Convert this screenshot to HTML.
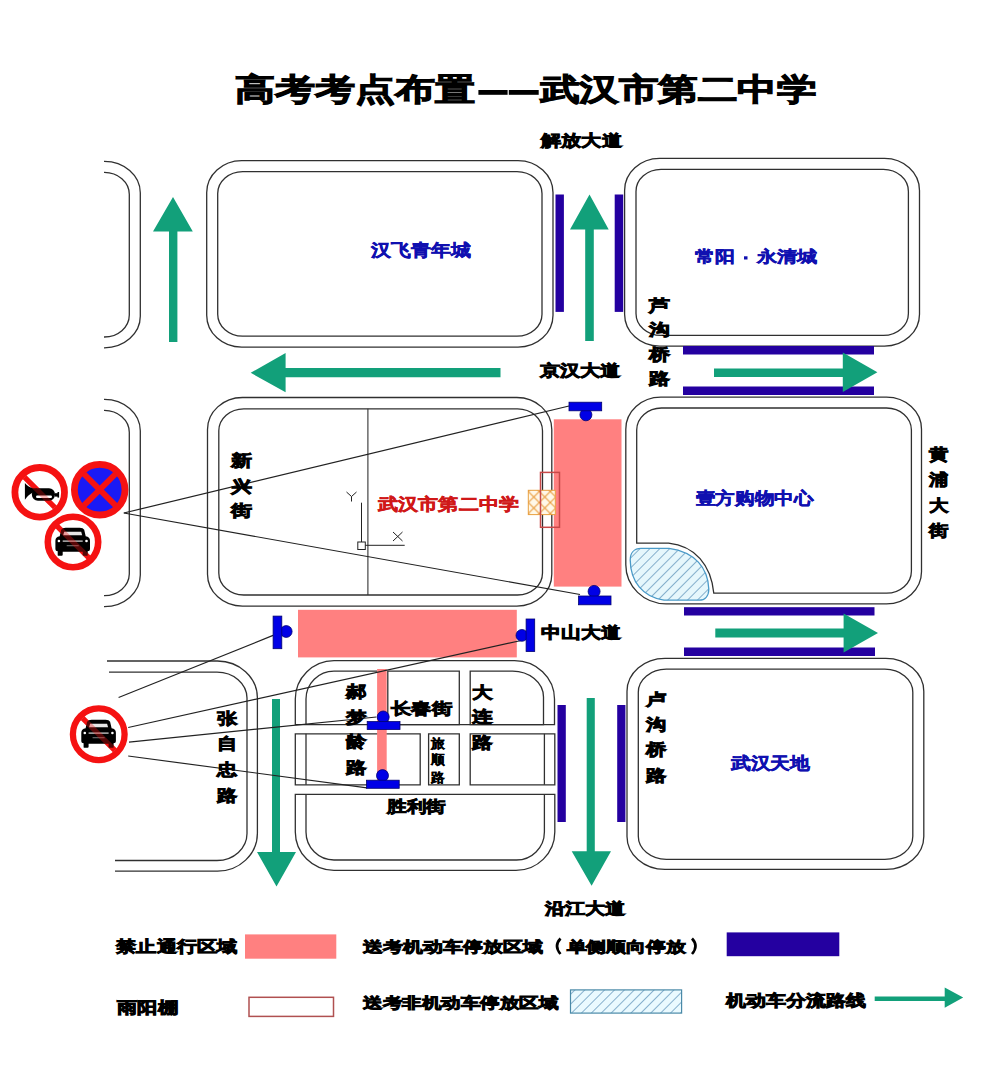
<!DOCTYPE html>
<html><head><meta charset="utf-8"><style>
html,body{margin:0;padding:0;background:#fff;}
svg{display:block;font-family:"Liberation Sans",sans-serif;}
</style></head><body>
<svg width="985" height="1067" viewBox="0 0 985 1067">
<rect x="0" y="0" width="985" height="1067" fill="#fff"/>
<text x="234.5" y="99.73" font-size="30.50" font-weight="700" fill="#000" stroke="#000" stroke-width="1.0" textLength="240.50" lengthAdjust="spacingAndGlyphs">高考考点布置</text>
<rect x="478.4" y="90" width="29.20" height="4.80" fill="#000" />
<rect x="508.8" y="90" width="29.90" height="4.80" fill="#000" />
<text x="539.5" y="99.73" font-size="30.50" font-weight="700" fill="#000" stroke="#000" stroke-width="1.0" textLength="277.10" lengthAdjust="spacingAndGlyphs">武汉市第二中学</text>
<path d="M104,161.3 A36,31.5 0 0 1 140.3,192.8 V316 A36,31.5 0 0 1 104,347.8" fill="none" stroke="#303030" stroke-width="1.3"/>
<path d="M104,172.3 A25,22 0 0 1 129.3,194.3 V315 A25,22 0 0 1 104,337" fill="none" stroke="#303030" stroke-width="1.3"/>
<path d="M104,399.3 A36,31.5 0 0 1 140.3,430.8 V575 A36,31.5 0 0 1 104,606.6" fill="none" stroke="#303030" stroke-width="1.3"/>
<path d="M104,410.3 A25,22 0 0 1 129.3,432.3 V574 A25,22 0 0 1 104,595.6" fill="none" stroke="#303030" stroke-width="1.3"/>
<path d="M107,661 H217 A40,37 0 0 1 257.4,698 V833 A40,38 0 0 1 217,871.2 H115" fill="none" stroke="#303030" stroke-width="1.3"/>
<path d="M109,672.2 H217 A30,26 0 0 1 247,698 V833 A30,27 0 0 1 217,860.5 H115" fill="none" stroke="#303030" stroke-width="1.3"/>
<path d="M241.7,160.6 H518 A35,32 0 0 1 553,192.6 V315.2 A35,32 0 0 1 518,347.2 H241.7 A35,32 0 0 1 206.7,315.2 V192.6 A35,32 0 0 1 241.7,160.6 Z" fill="none" stroke="#303030" stroke-width="1.3"/>
<path d="M242.7,171.6 H517 A25,22 0 0 1 542,193.6 V314.2 A25,22 0 0 1 517,336.2 H242.7 A25,22 0 0 1 217.7,314.2 V193.6 A25,22 0 0 1 242.7,171.6 Z" fill="none" stroke="#303030" stroke-width="1.3"/>
<path d="M659.6,158.4 H884.5 A35,32 0 0 1 919.5,190.4 V314.2 A35,32 0 0 1 884.5,346.2 H659.6 A35,32 0 0 1 624.6,314.2 V190.4 A35,32 0 0 1 659.6,158.4 Z" fill="none" stroke="#303030" stroke-width="1.3"/>
<path d="M661,169.4 H883.4 A25,22 0 0 1 908.4,191.4 V313.4 A25,22 0 0 1 883.4,335.4 H661 A25,22 0 0 1 636,313.4 V191.4 A25,22 0 0 1 661,169.4 Z" fill="none" stroke="#303030" stroke-width="1.3"/>
<path d="M242.5,397.5 H516.8 A35,32 0 0 1 551.8,429.5 V574.2 A35,32 0 0 1 516.8,606.2 H242.5 A35,32 0 0 1 207.5,574.2 V429.5 A35,32 0 0 1 242.5,397.5 Z" fill="none" stroke="#303030" stroke-width="1.3"/>
<path d="M243.8,408.8 H517.5 A25,22 0 0 1 542.5,430.8 V573.0 A25,22 0 0 1 517.5,595.0 H243.8 A25,22 0 0 1 218.8,573.0 V430.8 A25,22 0 0 1 243.8,408.8 Z" fill="none" stroke="#303030" stroke-width="1.3"/>
<line x1="367.9" y1="408.8" x2="367.9" y2="595.0" stroke="#333" stroke-width="1.1"/>
<path d="M660.8,397.2 H886.5 A35,32 0 0 1 921.5,429.2 V571.8 A35,32 0 0 1 886.5,603.8 H666 A40.2,39 0 0 1 625.8,564.8 V429.2 A35,32 0 0 1 660.8,397.2 Z" fill="none" stroke="#303030" stroke-width="1.3"/>
<path d="M661.5,408 H886.5 A25,22 0 0 1 911.4,430 V571.2 A25,22 0 0 1 886.5,593.2 H713.8 C711,565 695,546 668.6,543.2 H636.7 V430 A25,22 0 0 1 661.5,408 Z" fill="none" stroke="#303030" stroke-width="1.3"/>
<path d="M665,658.3 H885.8 A38,33 0 0 1 923.8,691.3 V836.4 A38,33 0 0 1 885.8,869.4 H665 A38,33 0 0 1 627,836.4 V691.3 A38,33 0 0 1 665,658.3 Z" fill="none" stroke="#303030" stroke-width="1.3"/>
<path d="M666.3,669.2 H884.8 A28,23 0 0 1 912.8,692.2 V836.3 A28,23 0 0 1 884.8,859.3 H666.3 A28,23 0 0 1 638.3,836.3 V692.2 A28,23 0 0 1 666.3,669.2 Z" fill="none" stroke="#303030" stroke-width="1.3"/>
<path d="M295.3,794.4 V832 A39,38.5 0 0 0 334,870.4 H516 A39,38.5 0 0 0 554.8,832 V794.4 H295.3 Z" fill="none" stroke="#303030" stroke-width="1.3"/>
<path d="M554.8,784.8 V733.8 H470.2 V784.8 Z" fill="none" stroke="#303030" stroke-width="1.3"/>
<path d="M295.3,784.8 V733.8 H420.2 V784.8 Z" fill="none" stroke="#303030" stroke-width="1.3"/>
<path d="M306,794.4 V832 A28,28 0 0 0 334,860 H516 A28,28 0 0 0 544.4,832 V794.4" fill="none" stroke="#303030" stroke-width="1.3"/>
<path d="M306,733.8 V784.8" fill="none" stroke="#303030" stroke-width="1.3"/>
<path d="M544.4,733.8 V784.8" fill="none" stroke="#303030" stroke-width="1.3"/>
<path d="M428.6,733.8 H459.3 V784.8 H428.6 Z" fill="none" stroke="#303030" stroke-width="1.3"/>
<path d="M295.3,724.6 V699 A39,38.5 0 0 1 334,660.6 H514 A40,38.5 0 0 1 554.5,699 V724.6 Z" fill="none" stroke="#303030" stroke-width="1.3"/>
<path d="M306,724.6 V699 A28,28 0 0 1 334,671.2 H377" fill="none" stroke="#303030" stroke-width="1.3"/>
<path d="M387.8,671.2 H459.3 V724.6 H387.8 Z" fill="none" stroke="#303030" stroke-width="1.3"/>
<path d="M470.2,671.2 H512 A31,26 0 0 1 543.5,697 V724.6 H470.2 Z" fill="none" stroke="#303030" stroke-width="1.3"/>
<rect x="555.5" y="194.5" width="8.40" height="117.40" fill="#2400a0" />
<rect x="614.7" y="194.5" width="8.50" height="117.40" fill="#2400a0" />
<rect x="683" y="346" width="191.00" height="8.50" fill="#2400a0" />
<rect x="683" y="386.5" width="191.00" height="8.50" fill="#2400a0" />
<rect x="684" y="607.2" width="190.50" height="8.30" fill="#2400a0" />
<rect x="684" y="647.5" width="191.00" height="8.50" fill="#2400a0" />
<rect x="557.5" y="705" width="8.30" height="117.00" fill="#2400a0" />
<rect x="617.2" y="705" width="8.20" height="117.00" fill="#2400a0" />
<rect x="726.7" y="932.4" width="112.60" height="23.80" fill="#2400a0" />
<path d="M173,197 L192.8,231.4 L177.4,231.4 L177.4,342 L169,342 L169,231.4 L153,231.4 Z" fill="#12a07a"/>
<path d="M250.7,372.8 L285.6,392.3 L285.6,377.3 L500.5,377.3 L500.5,368 L285.6,368 L285.6,352.9 Z" fill="#12a07a"/>
<path d="M589.5,194.6 L608.7,229.6 L593.8,229.6 L593.8,340.9 L585.2,340.9 L585.2,229.6 L570,229.6 Z" fill="#12a07a"/>
<path d="M877.4,372.2 L842.8,392 L842.8,377.1 L714,377.1 L714,368.6 L842.8,368.6 L842.8,352.4 Z" fill="#12a07a"/>
<path d="M878,633 L843.6,652.4 L843.6,637.5 L715.3,637.5 L715.3,628.5 L843.6,628.5 L843.6,613.6 Z" fill="#12a07a"/>
<path d="M276.5,886.5 L296,852 L280,852 L280,699 L272,699 L272,852 L257,852 Z" fill="#12a07a"/>
<path d="M591.6,885.7 L611,851.2 L594.8,851.2 L594.8,698 L586.7,698 L586.7,851.2 L571.7,851.2 Z" fill="#12a07a"/>
<path d="M963.2,997.5 L944.7,1007.7 L944.7,1001.1 L874.7,1001.1 L874.7,996.6 L944.7,996.6 L944.7,987.4 Z" fill="#12a07a"/>
<rect x="553.8" y="419.3" width="67.70" height="167.30" fill="#ff8080" />
<rect x="298" y="609.8" width="218.80" height="47.60" fill="#ff8080" />
<rect x="377.1" y="669" width="9.60" height="111.00" fill="#ff8080" />
<rect x="245" y="934.4" width="91.30" height="24.30" fill="#ff8080" />
<defs><pattern id="xh" width="11" height="11" patternUnits="userSpaceOnUse" patternTransform="translate(528.3,491.5)"><path d="M0,0 L11,11 M11,0 L0,11" stroke="#e89a3a" stroke-width="1.1"/></pattern><pattern id="dh" width="7" height="7" patternUnits="userSpaceOnUse" patternTransform="rotate(45)"><line x1="0" y1="0" x2="0" y2="7" stroke="#3a78a8" stroke-width="1.15"/></pattern></defs>
<rect x="528.3" y="490.3" width="27" height="24.3" fill="#fff8e8" stroke="#e8a040" stroke-width="1"/>
<rect x="528.3" y="490.3" width="27" height="24.3" fill="url(#xh)"/>
<rect x="540.5" y="472.4" width="19" height="54.9" fill="none" stroke="#c84848" stroke-width="1.5"/>
<rect x="249" y="997.3" width="84.5" height="19.1" fill="none" stroke="#b05050" stroke-width="1.5"/>
<path d="M641,548.4 H669 C695,552 708,568 708.8,589 C708.8,596 705,600.2 699,600.2 H664 C643,597 630.5,582 630.2,560 C630.2,553 634,548.4 641,548.4 Z" fill="#e6f7fc"/>
<path d="M641,548.4 H669 C695,552 708,568 708.8,589 C708.8,596 705,600.2 699,600.2 H664 C643,597 630.5,582 630.2,560 C630.2,553 634,548.4 641,548.4 Z" fill="url(#dh)"/>
<path d="M641,548.4 H669 C695,552 708,568 708.8,589 C708.8,596 705,600.2 699,600.2 H664 C643,597 630.5,582 630.2,560 C630.2,553 634,548.4 641,548.4 Z" fill="none" stroke="#4a9ac8" stroke-width="1.3"/>
<rect x="570.5" y="989.9" width="111.1" height="23.2" fill="#eafaff"/>
<rect x="570.5" y="989.9" width="111.1" height="23.2" fill="url(#dh)"/>
<rect x="570.5" y="989.9" width="111.1" height="23.2" fill="none" stroke="#4a8aa8" stroke-width="1.2"/>
<g stroke="#222" stroke-width="1" fill="none"><path d="M361.5,502.7 V542 M365.3,545.3 H404.7"/><rect x="357.8" y="542" width="7.5" height="7.5"/><path d="M346.5,492 L351.5,496.5 L356.5,492 M351.5,496.5 V501.5"/><path d="M393,532 L402.5,541 M402.5,532 L393,541"/></g>
<line x1="123.8" y1="513" x2="569" y2="406" stroke="#222" stroke-width="1.2"/>
<line x1="123.8" y1="513" x2="580" y2="594.5" stroke="#222" stroke-width="1.2"/>
<line x1="118.6" y1="697.5" x2="273.1" y2="635.4" stroke="#222" stroke-width="1.2"/>
<line x1="128.2" y1="727.5" x2="521.2" y2="640.5" stroke="#222" stroke-width="1.2"/>
<line x1="129" y1="742.1" x2="376.4" y2="717" stroke="#222" stroke-width="1.2"/>
<line x1="128.2" y1="756" x2="367" y2="787.8" stroke="#222" stroke-width="1.2"/>
<g fill="#0000e6" stroke="#000070" stroke-width="0.8"><circle cx="585.9" cy="414.8" r="6"/><rect x="569" y="402.2" width="32.70" height="8.60"/></g>
<g fill="#0000e6" stroke="#000070" stroke-width="0.8"><circle cx="594.1" cy="591.4" r="6"/><rect x="578.6" y="596" width="32.40" height="8.80"/></g>
<g fill="#0000e6" stroke="#000070" stroke-width="0.8"><circle cx="383.2" cy="717" r="6"/><rect x="367.2" y="721.6" width="32.80" height="7.90"/></g>
<g fill="#0000e6" stroke="#000070" stroke-width="0.8"><circle cx="382.5" cy="775.6" r="6"/><rect x="366.5" y="780.2" width="32.70" height="8.10"/></g>
<g fill="#0000e6" stroke="#000070" stroke-width="0.8"><circle cx="286.2" cy="631.5" r="5.9"/><rect x="273.1" y="616.1" width="8.7" height="32.6"/></g>
<g fill="#0000e6" stroke="#000070" stroke-width="0.8"><circle cx="521.9" cy="635.4" r="5.9"/><rect x="526.1" y="619" width="8.6" height="32.5"/></g>
<circle cx="39.7" cy="492.3" r="24.8" fill="#fff" stroke="#f51212" stroke-width="6.8"/>
<line x1="24.499500000000005" y1="477.09950000000003" x2="54.9005" y2="507.5005" stroke="#f51212" stroke-width="5.2" opacity="1.0"/>
<g fill="#000"><path d="M24.9,483 L24.9,499.8 Q28.5,494.5 33,492.6 L37,492.4 V488.2 L33,488.2 Q28.5,487.5 24.9,483 Z"/><rect x="31.9" y="488.2" width="23.1" height="12.5" rx="6"/><rect x="55" y="493.2" width="3.2" height="3.4"/><rect x="57.5" y="492" width="1.6" height="5.6"/></g>
<rect x="36" y="495.6" width="16" height="2.4" rx="1.2" fill="#fff"/>
<line x1="24.499500000000005" y1="477.09950000000003" x2="54.9005" y2="507.5005" stroke="#f51212" stroke-width="5.2" opacity="0.3"/>
<circle cx="99.7" cy="489.7" r="25.3" fill="#1a1af5" stroke="#f51212" stroke-width="6.8"/>
<path d="M84,474 L115.4,505.4 M115.4,474 L84,505.4" stroke="#f51212" stroke-width="5.8"/>
<circle cx="73" cy="542" r="25.2" fill="#fff" stroke="#f51212" stroke-width="6.6"/>
<line x1="57.0925" y1="526.0925" x2="88.9075" y2="557.9075" stroke="#f51212" stroke-width="5.2" opacity="1.0"/>
<g transform="translate(72.7,541.8)"><path fill="#000" d="M-13,-5.5 L-11.5,-12 Q-10.5,-14 -7,-14 H7 Q10.5,-14 11.5,-12 L13,-5.5 Q17.3,-5 17.3,-1 V7.5 Q17.3,9.5 15,9.5 V13.5 Q15,14 14,14 H11 Q10,14 10,13 V10 H-10 V13 Q-10,14 -11,14 H-14 Q-15,14 -15,13.5 V9.5 Q-17.3,9.5 -17.3,7.5 V-1 Q-17.3,-5 -13,-5.5 Z"/><path fill="#fff" d="M-9.5,-6.5 L-8.5,-10 H8.5 L9.5,-6.5 Z" opacity="0.9"/><rect x="-10" y="-1.3" width="20" height="1.2" fill="#ddd"/><circle cx="-13.8" cy="-0.8" r="1.3" fill="#fff"/><circle cx="13.8" cy="-0.8" r="1.3" fill="#fff"/><rect x="-6" y="3.5" width="12" height="0.9" fill="#888"/></g>
<line x1="57.0925" y1="526.0925" x2="88.9075" y2="557.9075" stroke="#f51212" stroke-width="5.2" opacity="0.35"/>
<circle cx="98.75" cy="734.2" r="25.85" fill="#fff" stroke="#f51212" stroke-width="6.3"/>
<line x1="82.63040000000001" y1="718.0804" x2="114.86959999999999" y2="750.3196" stroke="#f51212" stroke-width="5.2" opacity="1.0"/>
<g transform="translate(98.6,733.8)"><path fill="#000" d="M-13,-5.5 L-11.5,-12 Q-10.5,-14 -7,-14 H7 Q10.5,-14 11.5,-12 L13,-5.5 Q17.3,-5 17.3,-1 V7.5 Q17.3,9.5 15,9.5 V13.5 Q15,14 14,14 H11 Q10,14 10,13 V10 H-10 V13 Q-10,14 -11,14 H-14 Q-15,14 -15,13.5 V9.5 Q-17.3,9.5 -17.3,7.5 V-1 Q-17.3,-5 -13,-5.5 Z"/><path fill="#fff" d="M-9.5,-6.5 L-8.5,-10 H8.5 L9.5,-6.5 Z" opacity="0.9"/><rect x="-10" y="-1.3" width="20" height="1.2" fill="#ddd"/><circle cx="-13.8" cy="-0.8" r="1.3" fill="#fff"/><circle cx="13.8" cy="-0.8" r="1.3" fill="#fff"/><rect x="-6" y="3.5" width="12" height="0.9" fill="#888"/></g>
<line x1="82.63040000000001" y1="718.0804" x2="114.86959999999999" y2="750.3196" stroke="#f51212" stroke-width="5.2" opacity="0.35"/>
<text x="541.2" y="145.90" font-size="15.70" font-weight="700" fill="#000" stroke="#000" stroke-width="0.85" textLength="80.50" lengthAdjust="spacingAndGlyphs">解放大道</text>
<text x="539.5" y="376.46" font-size="16.00" font-weight="700" fill="#000" stroke="#000" stroke-width="0.85" textLength="80.70" lengthAdjust="spacingAndGlyphs">京汉大道</text>
<text x="541.3" y="637.89" font-size="15.80" font-weight="700" fill="#000" stroke="#000" stroke-width="0.85" textLength="79.00" lengthAdjust="spacingAndGlyphs">中山大道</text>
<text x="544.5" y="913.96" font-size="16.00" font-weight="700" fill="#000" stroke="#000" stroke-width="0.85" textLength="80.50" lengthAdjust="spacingAndGlyphs">沿江大道</text>
<text x="371" y="255.89" font-size="16.50" font-weight="700" fill="#1010b0" stroke="#1010b0" stroke-width="0.5" textLength="99.50" lengthAdjust="spacingAndGlyphs">汉飞青年城</text>
<text x="694.7" y="261.50" font-size="15.70" font-weight="700" fill="#1010b0" stroke="#1010b0" stroke-width="0.5" textLength="40.00" lengthAdjust="spacingAndGlyphs">常阳</text>
<rect x="744" y="256.3" width="3.50" height="3.20" fill="#1010b0" />
<text x="756.8" y="261.50" font-size="15.70" font-weight="700" fill="#1010b0" stroke="#1010b0" stroke-width="0.5" textLength="60.40" lengthAdjust="spacingAndGlyphs">永清城</text>
<text x="378.4" y="509.82" font-size="17.00" font-weight="700" fill="#d01818" stroke="#d01818" stroke-width="0.5" textLength="140.20" lengthAdjust="spacingAndGlyphs">武汉市第二中学</text>
<text x="695.9" y="504.39" font-size="16.50" font-weight="700" fill="#1010b0" stroke="#1010b0" stroke-width="0.5" textLength="117.40" lengthAdjust="spacingAndGlyphs">壹方购物中心</text>
<text x="730.9" y="768.89" font-size="16.50" font-weight="700" fill="#1010b0" stroke="#1010b0" stroke-width="0.5" textLength="79.10" lengthAdjust="spacingAndGlyphs">武汉天地</text>
<text x="391" y="713.96" font-size="16.00" font-weight="700" fill="#000" stroke="#000" stroke-width="0.85" textLength="61.00" lengthAdjust="spacingAndGlyphs">长春街</text>
<text x="387" y="811.96" font-size="16.00" font-weight="700" fill="#000" stroke="#000" stroke-width="0.85" textLength="58.50" lengthAdjust="spacingAndGlyphs">胜利街</text>
<text x="649.2" y="311.46" font-size="16.00" font-weight="700" fill="#000" stroke="#000" stroke-width="0.85" textLength="20.90" lengthAdjust="spacingAndGlyphs">芦</text>
<text x="649.2" y="334.96" font-size="16.00" font-weight="700" fill="#000" stroke="#000" stroke-width="0.85" textLength="20.90" lengthAdjust="spacingAndGlyphs">沟</text>
<text x="649.2" y="360.46" font-size="16.00" font-weight="700" fill="#000" stroke="#000" stroke-width="0.85" textLength="20.90" lengthAdjust="spacingAndGlyphs">桥</text>
<text x="649.2" y="383.96" font-size="16.00" font-weight="700" fill="#000" stroke="#000" stroke-width="0.85" textLength="20.90" lengthAdjust="spacingAndGlyphs">路</text>
<text x="646.4" y="704.96" font-size="16.00" font-weight="700" fill="#000" stroke="#000" stroke-width="0.85" textLength="20.30" lengthAdjust="spacingAndGlyphs">卢</text>
<text x="646.4" y="729.96" font-size="16.00" font-weight="700" fill="#000" stroke="#000" stroke-width="0.85" textLength="20.30" lengthAdjust="spacingAndGlyphs">沟</text>
<text x="646.4" y="755.46" font-size="16.00" font-weight="700" fill="#000" stroke="#000" stroke-width="0.85" textLength="20.30" lengthAdjust="spacingAndGlyphs">桥</text>
<text x="646.4" y="780.96" font-size="16.00" font-weight="700" fill="#000" stroke="#000" stroke-width="0.85" textLength="20.30" lengthAdjust="spacingAndGlyphs">路</text>
<text x="929.4" y="460.46" font-size="16.00" font-weight="700" fill="#000" stroke="#000" stroke-width="0.85" textLength="19.40" lengthAdjust="spacingAndGlyphs">黄</text>
<text x="929.4" y="485.46" font-size="16.00" font-weight="700" fill="#000" stroke="#000" stroke-width="0.85" textLength="19.40" lengthAdjust="spacingAndGlyphs">浦</text>
<text x="929.4" y="511.46" font-size="16.00" font-weight="700" fill="#000" stroke="#000" stroke-width="0.85" textLength="19.40" lengthAdjust="spacingAndGlyphs">大</text>
<text x="929.4" y="535.96" font-size="16.00" font-weight="700" fill="#000" stroke="#000" stroke-width="0.85" textLength="19.40" lengthAdjust="spacingAndGlyphs">街</text>
<text x="230.8" y="465.96" font-size="16.00" font-weight="700" fill="#000" stroke="#000" stroke-width="0.85" textLength="21.00" lengthAdjust="spacingAndGlyphs">新</text>
<text x="230.8" y="491.76" font-size="16.00" font-weight="700" fill="#000" stroke="#000" stroke-width="0.85" textLength="21.00" lengthAdjust="spacingAndGlyphs">兴</text>
<text x="230.8" y="516.16" font-size="16.00" font-weight="700" fill="#000" stroke="#000" stroke-width="0.85" textLength="21.00" lengthAdjust="spacingAndGlyphs">街</text>
<text x="217" y="724.16" font-size="16.00" font-weight="700" fill="#000" stroke="#000" stroke-width="0.85" textLength="20.20" lengthAdjust="spacingAndGlyphs">张</text>
<text x="217" y="748.96" font-size="16.00" font-weight="700" fill="#000" stroke="#000" stroke-width="0.85" textLength="20.20" lengthAdjust="spacingAndGlyphs">自</text>
<text x="217" y="774.96" font-size="16.00" font-weight="700" fill="#000" stroke="#000" stroke-width="0.85" textLength="20.20" lengthAdjust="spacingAndGlyphs">忠</text>
<text x="217" y="800.56" font-size="16.00" font-weight="700" fill="#000" stroke="#000" stroke-width="0.85" textLength="20.20" lengthAdjust="spacingAndGlyphs">路</text>
<text x="346" y="696.96" font-size="16.00" font-weight="700" fill="#000" stroke="#000" stroke-width="0.85" textLength="20.50" lengthAdjust="spacingAndGlyphs">郝</text>
<text x="346" y="722.96" font-size="16.00" font-weight="700" fill="#000" stroke="#000" stroke-width="0.85" textLength="20.50" lengthAdjust="spacingAndGlyphs">梦</text>
<text x="346" y="747.36" font-size="16.00" font-weight="700" fill="#000" stroke="#000" stroke-width="0.85" textLength="20.50" lengthAdjust="spacingAndGlyphs">龄</text>
<text x="346" y="773.26" font-size="16.00" font-weight="700" fill="#000" stroke="#000" stroke-width="0.85" textLength="20.50" lengthAdjust="spacingAndGlyphs">路</text>
<text x="471.8" y="697.96" font-size="16.00" font-weight="700" fill="#000" stroke="#000" stroke-width="0.85" textLength="20.50" lengthAdjust="spacingAndGlyphs">大</text>
<text x="471.8" y="721.96" font-size="16.00" font-weight="700" fill="#000" stroke="#000" stroke-width="0.85" textLength="20.50" lengthAdjust="spacingAndGlyphs">连</text>
<text x="471.8" y="747.96" font-size="16.00" font-weight="700" fill="#000" stroke="#000" stroke-width="0.85" textLength="20.50" lengthAdjust="spacingAndGlyphs">路</text>
<text x="430.7" y="748.38" font-size="13.00" font-weight="700" fill="#000" stroke="#000" stroke-width="0.4" textLength="13.70" lengthAdjust="spacingAndGlyphs">旅</text>
<text x="430.7" y="764.38" font-size="13.00" font-weight="700" fill="#000" stroke="#000" stroke-width="0.4" textLength="13.70" lengthAdjust="spacingAndGlyphs">顺</text>
<text x="430.7" y="781.88" font-size="13.00" font-weight="700" fill="#000" stroke="#000" stroke-width="0.4" textLength="13.70" lengthAdjust="spacingAndGlyphs">路</text>
<text x="116.2" y="952.46" font-size="16.00" font-weight="700" fill="#000" stroke="#000" stroke-width="0.85" textLength="121.10" lengthAdjust="spacingAndGlyphs">禁止通行区域</text>
<text x="116.9" y="1012.67" font-size="15.90" font-weight="700" fill="#000" stroke="#000" stroke-width="0.85" textLength="61.20" lengthAdjust="spacingAndGlyphs">雨阳棚</text>
<text x="363.3" y="951.86" font-size="15.30" font-weight="700" fill="#000" stroke="#000" stroke-width="0.85" textLength="179.20" lengthAdjust="spacingAndGlyphs">送考机动车停放区域</text>
<text x="566.6" y="951.86" font-size="15.30" font-weight="700" fill="#000" stroke="#000" stroke-width="0.85" textLength="119.30" lengthAdjust="spacingAndGlyphs">单侧顺向停放</text>
<path d="M560.5,938.5 Q553.5,946 560.5,954" fill="none" stroke="#000" stroke-width="2.6"/>
<path d="M692,938.5 Q699,946 692,954" fill="none" stroke="#000" stroke-width="2.6"/>
<text x="363.3" y="1007.87" font-size="15.20" font-weight="700" fill="#000" stroke="#000" stroke-width="0.85" textLength="195.20" lengthAdjust="spacingAndGlyphs">送考非机动车停放区域</text>
<text x="725.6" y="1005.69" font-size="15.80" font-weight="700" fill="#000" stroke="#000" stroke-width="0.85" textLength="139.90" lengthAdjust="spacingAndGlyphs">机动车分流路线</text>
</svg>
</body></html>
